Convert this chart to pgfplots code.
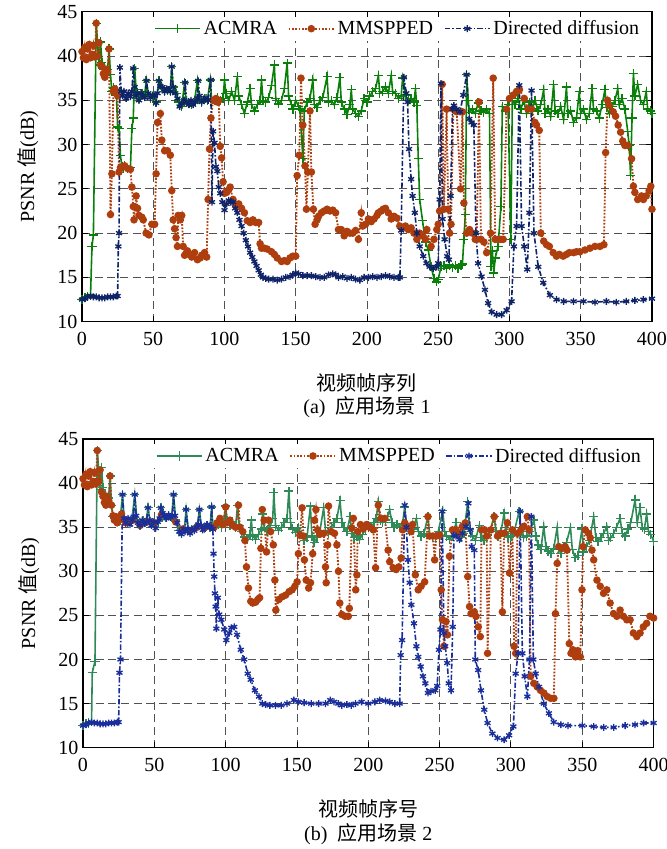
\documentclass[border=0pt]{standalone}
\usepackage{pgfplots}
\pgfplotsset{compat=1.18}
\usepackage{fontspec}
\setmainfont{Liberation Serif}
\newfontfamily\cjk{Noto Sans CJK SC}
\definecolor{gA}{RGB}{10,128,10}
\definecolor{gB}{RGB}{46,139,87}
\definecolor{rM}{RGB}{175,62,15}
\definecolor{bA}{RGB}{15,35,105}
\definecolor{bB}{RGB}{25,45,155}
\newcommand{\fs}{\fontsize{15}{18}\selectfont}
\pgfplotsset{
 myaxis/.style={
  scale only axis, xmin=0, xmax=400, ymin=10, ymax=45,
  xtick={0,50,...,400}, ytick={10,15,...,45},
  grid=major,
  major grid style={dash pattern=on 6pt off 3.5pt, color=black!68, line width=0.7pt},
  axis line style={line width=1pt},
  tick style={black, line width=0.7pt},
  font=\fs,
  tick label style={font=\fs},
  xticklabel style={yshift=-4pt},
  /pgf/number format/assume math mode=true,
  legend style={at={(rel axis cs:0.985,0.985)}, anchor=north east, draw=none, fill=white,
    legend columns=3, font=\fs, inner sep=1pt,
    /tikz/every even column/.append style={column sep=6pt}},
  legend image code/.code={\draw[mark repeat=2,mark phase=2,#1] plot coordinates {(0pt,0pt)(17pt,0pt)(34pt,0pt)};},
  ylabel={PSNR {\cjk 值}(dB)},
  ylabel style={at={(axis description cs:-0.095,0.5)}, anchor=center},
 },
 sA/.style={line width=1.2pt, mark=+, mark size=3.4pt, mark options={solid, line width=1pt}},
 sM/.style={color=rM, line width=1.4pt, dash pattern=on 1.3pt off 1.2pt, mark=*, mark size=2.1pt, mark options={solid, fill=rM}},
 sD/.style={line width=1.2pt, dash pattern=on 4pt off 1.5pt on 1.2pt off 1.5pt, mark=asterisk, mark size=2.6pt, mark options={solid, line width=1pt}},
}
\begin{document}
\begin{tikzpicture}
\useasboundingbox (-61.5pt,241.3pt) rectangle (438.75pt,-395.5pt);
% ---------------- (a) ----------------
\begin{axis}[myaxis, name=top, at={(0pt,0pt)}, anchor=south west, width=427.5pt, height=232.5pt]
\addplot[sA, color=gA] coordinates {
(0,12.5)(2,12.7)(4,12.8)(6,13.0)(7,18.5)(8,19.8)(10,43.7)(11,41.3)(12,39.0)(13,41.6)(14,39.3)(15,38.5)(16,38.8)(17,37.8)(18,38.5)(19,40.8)(20,37.9)(21,36.0)(22,36.4)(23,35.9)(24,36.2)(25,32.0)(26,31.8)(27,28.8)(28,27.5)(29,27.3)(30,27.6)(32,27.3)(34,27.4)(35,31.8)(36,33.0)(37,38.6)(38,36.2)(40,35.2)(42,35.8)(44,35.5)(45,37.2)(46,35.6)(48,35.2)(50,35.6)(52,34.8)(54,37.2)(56,36.4)(58,36.0)(60,36.1)(62,36.0)(63,38.8)(64,36.5)(66,35.8)(68,34.8)(70,34.3)(72,37.0)(73,35.0)(75,34.6)(77,34.5)(79,35.0)(81,37.2)(82,35.4)(84,34.8)(86,35.2)(88,35.0)(90,37.3)(91,35.2)(93,35.0)(95,35.3)(97,35.0)(99,35.2)(100,37.3)(101,35.8)(103,35.0)(105,36.0)(107,35.0)(109,37.7)(110,35.5)(112,34.5)(114,33.5)(116,34.8)(118,36.3)(119,34.5)(121,33.8)(123,34.5)(125,35.0)(126,37.3)(127,35.0)(129,34.8)(131,35.3)(133,36.7)(135,39.0)(136,35.2)(138,34.6)(140,35.0)(142,36.3)(144,39.2)(145,35.5)(147,34.5)(148,34.0)(150,35.0)(152,34.3)(153,34.0)(155,28.4)(156,33.8)(158,34.8)(160,35.2)(162,37.3)(163,34.5)(165,34.2)(167,35.0)(169,35.3)(172,37.7)(173,34.8)(175,35.0)(177,34.5)(179,35.3)(181,37.6)(182,34.8)(184,34.0)(186,33.4)(188,34.5)(189,36.2)(190,34.0)(192,33.5)(194,33.2)(196,33.8)(198,35.2)(200,34.8)(202,35.5)(204,36.0)(206,36.3)(208,37.8)(209,35.8)(211,36.0)(213,36.5)(215,35.8)(217,37.8)(218,36.0)(220,35.8)(222,35.2)(224,35.5)(225,37.5)(227,35.6)(229,35.0)(231,35.2)(233,34.8)(234,36.3)(235,34.4)(236,28.4)(237,23.8)(239,21.4)(241,19.0)(243,18.1)(245,16.2)(247,14.9)(249,14.5)(250,14.8)(252,16.2)(254,16.3)(256,16.0)(258,16.4)(260,16.1)(262,16.3)(264,16.0)(266,16.4)(267,16.5)(268,19.3)(269,22.1)(270,37.9)(271,35.0)(272,33.6)(274,34.0)(276,33.5)(278,34.7)(280,33.8)(282,33.6)(284,34.0)(286,33.5)(287,16.2)(288,18.0)(289,15.5)(290,17.2)(292,18.5)(294,23.0)(295,34.3)(297,33.8)(299,34.5)(301,19.3)(302,35.0)(304,34.5)(306,35.2)(308,34.0)(310,35.0)(312,33.5)(314,34.8)(316,34.0)(318,35.0)(320,33.8)(322,34.5)(324,36.2)(325,33.5)(327,34.0)(329,33.2)(331,36.8)(332,33.8)(334,33.5)(336,34.3)(338,32.8)(340,36.5)(341,33.5)(343,33.8)(345,32.5)(347,33.0)(349,36.0)(350,33.5)(352,34.0)(354,32.8)(356,33.5)(358,36.3)(359,34.0)(361,33.8)(363,33.0)(365,34.5)(367,36.2)(368,34.2)(370,33.5)(372,34.3)(374,35.0)(376,36.3)(377,34.5)(379,35.2)(381,34.0)(383,31.5)(384,29.9)(385,26.5)(386,33.0)(387,38.0)(388,35.5)(390,36.8)(392,35.0)(394,34.5)(396,36.0)(397,34.0)(399,33.8)(400,33.5)};
\addlegendentry{ACMRA}
\addplot[sM] coordinates {
(0,40.5)(1,39.8)(2,41.0)(3,39.6)(4,40.8)(5,41.3)(6,39.8)(7,40.2)(8,41.2)(9,39.9)(10,43.7)(11,40.0)(12,41.5)(13,39.0)(14,38.8)(15,38.0)(16,37.6)(17,38.5)(18,38.2)(19,40.8)(20,22.1)(21,26.7)(22,36.0)(23,36.3)(24,35.8)(25,35.5)(26,26.9)(27,27.4)(28,27.5)(30,27.6)(32,27.3)(34,27.2)(35,25.2)(36,23.0)(36.5,21.5)(38,24.2)(39,22.8)(40,22.0)(42,21.8)(43,21.5)(45,20.0)(47,19.8)(49,21.0)(51,21.0)(52,26.7)(53,32.5)(55,33.5)(56,30.5)(58,29.3)(60,29.3)(62,28.8)(63,24.8)(64,21.5)(65,20.5)(66,19.5)(67,18.5)(67.5,22.0)(69,21.5)(70,22.0)(71,18.5)(72,17.5)(74,18.0)(75,17.6)(77,17.3)(79,17.8)(81,17.0)(83,17.2)(84,17.5)(86,17.8)(87.5,17.3)(88.5,23.8)(89.5,29.5)(90.5,33.0)(92,35.0)(94,35.2)(95,34.8)(96,35.0)(97,29.8)(98,28.5)(99,25.8)(100,24.5)(101.5,24.6)(103,24.9)(104,25.2)(106,23.8)(108,23.1)(110,23.3)(112,22.8)(114,22.3)(116,21.4)(118,21.2)(120,21.5)(122,21.2)(124,21.2)(125,18.8)(126,18.3)(128,18.3)(130,18.2)(133,17.9)(135,17.6)(137,17.2)(140,16.8)(142,16.9)(144,16.8)(146,17.2)(148,17.4)(150,17.4)(151,26.5)(152.5,28.8)(153.7,37.5)(155,32.2)(156.5,27.6)(157.5,22.7)(158.5,26.9)(160,33.8)(161,26.9)(162.4,22.7)(163.6,21.0)(165,21.5)(166,21.9)(168,22.3)(170,22.5)(172,22.7)(174,22.5)(176,22.6)(178,22.3)(180,20.4)(182,20.4)(184,19.7)(186,20.2)(188,20.0)(190,20.0)(192,20.3)(194,19.3)(196,22.3)(197,20.8)(199,21.0)(201,21.6)(203,21.3)(205,21.6)(207,22.0)(208,22.3)(210,22.5)(211.4,22.7)(213,22.8)(215,22.3)(217,21.6)(219,21.9)(221,21.7)(223,20.8)(225,20.6)(227,20.8)(229,20.4)(231,20.6)(233,20.0)(235,19.3)(237,20.0)(239,19.7)(241,19.3)(242,20.4)(245,18.5)(247,19.3)(249,20.4)(250,21.0)(251,22.5)(252.8,36.8)(254,22.7)(255.9,34.0)(257,22.7)(258,20.0)(259,21.0)(260.6,34.0)(263,33.7)(265.7,25.0)(267,33.7)(268,23.4)(270,20.0)(272,20.4)(274,20.0)(276,19.3)(277,19.3)(278.6,34.8)(280,19.3)(282,19.0)(284,17.8)(286.7,20.0)(288.6,37.5)(290,19.3)(292,19.3)(294,19.3)(295.6,19.3)(298,34.0)(300,35.2)(302.7,35.6)(305,36.0)(307,36.2)(310.4,35.2)(313,34.0)(315.5,34.0)(317.9,32.5)(319,32.2)(320.9,31.6)(322,20.0)(324,19.1)(326,18.7)(328,18.5)(330.7,17.8)(333,17.4)(335,17.6)(337.7,17.4)(340,17.6)(342,17.8)(345,17.8)(347,17.9)(349.4,17.9)(353,18.1)(356.5,18.3)(360,18.5)(363.5,18.5)(366.3,18.7)(367.5,29.1)(368.9,35.0)(370,34.4)(372.8,33.7)(374.5,33.2)(376.3,32.2)(378,31.4)(379.5,30.4)(381,29.9)(383,29.9)(385.7,28.4)(387,25.3)(388,24.6)(390,23.8)(392.7,24.2)(394,23.8)(396,24.2)(398,24.8)(399.2,25.3)(400,22.7)};
\addlegendentry{MMSPPED}
\addplot[sD, color=bA] coordinates {
(0,12.5)(2,12.6)(4,12.8)(6,12.9)(8,12.8)(10,12.8)(12,12.7)(14,12.7)(16,12.7)(18,12.8)(20,12.8)(22,12.8)(24,12.9)(25,12.9)(25.5,18.5)(26,20.0)(26.6,38.7)(27.5,36.0)(28.5,35.5)(29.5,36.0)(31,35.2)(32.5,35.8)(34,35.4)(35,36.0)(36,38.6)(37,36.5)(38,35.5)(39,35.8)(40,35.0)(41.5,35.8)(43,35.5)(44,35.3)(45.3,37.2)(46.5,35.8)(48,35.3)(49.5,35.6)(51,35.5)(52,34.7)(53,35.8)(54,37.2)(55,36.6)(56.5,36.5)(58,36.0)(59.5,36.3)(61,36.2)(62,36.0)(63,38.8)(64,36.5)(65.5,35.8)(67,35.2)(68.5,34.3)(70,34.6)(71.5,35.0)(72.4,37.0)(73.5,34.8)(75,34.5)(76.5,35.0)(78,34.5)(79.5,34.8)(81,35.2)(81.5,37.2)(82.5,35.5)(84,34.8)(85.5,35.0)(87,35.3)(88.5,35.0)(90.4,37.3)(91.2,23.5)(92,31.5)(93,30.2)(94,27.5)(95,27.0)(96,25.2)(97,24.5)(98.5,23.5)(100,22.6)(101.5,23.3)(103,23.7)(104.5,23.5)(106,23.5)(107.5,22.8)(109,22.3)(110.5,21.5)(112,20.8)(113.5,20.0)(115,19.2)(116.5,18.5)(118,17.8)(119.5,17.3)(121,16.8)(122.5,16.3)(124,15.8)(125.5,15.3)(127,15.0)(129,14.9)(131,14.8)(134,14.8)(137,14.7)(140,14.8)(143,15.0)(146,15.1)(148,15.3)(150,15.5)(152,15.4)(155,15.2)(158,15.2)(161,15.2)(164,15.1)(167,15.0)(170,15.0)(173,15.3)(176,15.4)(178,15.3)(180,15.0)(183,15.1)(186,14.9)(189,15.0)(192,14.8)(195,14.7)(198,15.0)(201,15.0)(204,15.1)(207,15.0)(210,15.1)(213,15.2)(216,15.1)(219,15.0)(222,15.0)(223.1,15.0)(224,20.3)(225.9,37.6)(227.6,35.8)(228.5,34.8)(229.5,29.5)(231,26.1)(232,24.2)(233.6,22.3)(235,20.0)(237,18.5)(239.5,17.4)(241.8,16.6)(244,16.2)(246.5,16.0)(248.9,16.2)(250,16.6)(251,23.8)(251.9,36.9)(253,21.6)(254.5,19.3)(256.3,17.4)(257.5,17.0)(258.7,24.2)(260,34.0)(261,34.4)(263,34.0)(265.3,33.7)(267.6,35.6)(269.9,37.9)(271.8,32.9)(273.4,32.5)(275,32.2)(276.5,20.0)(278,16.6)(280.4,15.1)(282.8,13.6)(285,12.1)(287.5,11.1)(291,10.8)(294.5,10.8)(298,11.3)(301.5,12.3)(303.1,18.5)(305,20.8)(306.9,36.7)(308.5,20.8)(310.4,18.5)(312.5,15.9)(314,22.3)(315.5,36.1)(317.2,20.0)(320.2,16.2)(323.7,14.4)(328.4,13.0)(333,12.5)(338,12.3)(345,12.3)(352,12.3)(360,12.2)(368,12.3)(375,12.2)(382,12.3)(388,12.4)(394,12.5)(400,12.6)};
\addlegendentry{Directed diffusion}
\end{axis}
% ---------------- (b) ----------------
\begin{axis}[myaxis, name=bot, at={(0.75pt,-319.5pt)}, anchor=south west, width=428pt, height=231.5pt]
\addplot[sA, color=gB] coordinates {
(0,12.5)(2,12.7)(4,12.8)(6,13.0)(6.5,18.5)(8.4,19.8)(10,43.7)(11,41.5)(12,39.3)(13,41.8)(14,39.5)(15,38.5)(16,38.8)(17,37.8)(18,38.3)(19,40.8)(20,37.5)(21,36.2)(22,36.0)(24,36.0)(26,35.8)(27.7,38.7)(28.8,36.0)(30,35.5)(32,35.8)(34,35.5)(36.3,38.7)(38,35.6)(40,35.2)(42,35.8)(44,35.5)(45.6,37.2)(47,35.6)(49,35.4)(51,35.0)(53,35.7)(54.6,37.2)(56,36.5)(58,36.1)(60,36.3)(62,36.1)(63.5,38.7)(65,35.8)(67,34.6)(69,34.3)(71,34.7)(72.3,37.0)(74,34.6)(76,34.7)(78,34.8)(80,35.1)(81.6,37.0)(83,35.0)(85,34.9)(87,35.2)(89,35.0)(90.2,37.3)(91,35.2)(93,35.0)(95,35.3)(97,35.0)(98.5,35.5)(100,37.4)(101,35.8)(103,35.2)(105,35.6)(107,35.0)(108.3,37.5)(109.5,35.2)(111,34.5)(113,33.9)(115,33.6)(117,34.2)(118,35.8)(119,34.0)(121,33.6)(123,34.2)(125,34.8)(126,36.5)(127,35.0)(129,34.6)(131,35.0)(133,36.0)(133.8,38.9)(135,35.2)(137,34.6)(139,35.0)(141,35.5)(143,36.0)(144.3,39.1)(145.5,35.5)(147,34.8)(149,34.4)(151,35.0)(153,34.2)(155,33.5)(157,33.8)(159.4,37.4)(160.5,34.0)(162,33.3)(164,33.8)(166,34.5)(168.7,37.2)(170,34.6)(172,34.3)(174,35.0)(176,35.5)(178,36.0)(180.2,38.0)(181.5,35.5)(183,35.0)(185,34.5)(187.2,36.2)(188.5,34.3)(190,33.8)(192,34.0)(194,33.6)(196,34.2)(198,34.8)(200,35.2)(202,35.0)(204,35.5)(205.5,36.0)(207,37.9)(208.5,35.8)(210,35.5)(212,35.8)(213.5,36.2)(215,37.0)(216.5,35.5)(218,35.0)(220,35.3)(222,35.0)(224,35.4)(225.5,37.3)(227,35.0)(229,34.5)(231,34.8)(233.7,36.0)(235,34.5)(237,34.0)(239,34.3)(241.8,36.2)(243,34.2)(245,33.8)(247,34.0)(249,34.5)(252.2,36.9)(253.5,34.5)(255,34.0)(257,33.6)(259,34.0)(261.5,35.5)(263,34.0)(265,33.8)(267,34.3)(269.7,37.9)(271,34.8)(273,34.0)(275,33.5)(277.8,35.2)(279,33.8)(281,33.5)(283,34.0)(285,34.5)(288.2,36.2)(289.5,34.5)(291,34.0)(293,34.5)(295.2,36.6)(296.5,34.5)(298,33.8)(300,34.0)(302,34.3)(305.7,36.8)(307,34.5)(309,33.8)(311,34.0)(313,34.5)(316.1,35.8)(317.5,34.0)(319,33.0)(321,32.5)(323,35.1)(324.5,32.8)(326,32.3)(328,32.0)(330,32.6)(332.4,35.0)(333.5,32.5)(335,32.0)(337,32.8)(339,33.3)(341.7,35.0)(343,32.5)(345,31.6)(347,31.8)(349.8,34.8)(351,32.2)(353,32.8)(355,33.5)(358,36.2)(359.5,33.8)(361,33.4)(363,33.8)(365,34.3)(367.2,35.1)(368.5,33.5)(370,33.8)(372,34.3)(374,35.0)(376.5,36.0)(378,34.3)(380,34.0)(382,34.8)(384,35.5)(387,38.1)(388.5,35.5)(390.5,37.2)(392,35.0)(393.5,34.8)(395.1,36.5)(396.5,34.5)(398,34.2)(400,33.4)};
\addlegendentry{ACMRA}
\addplot[sM] coordinates {
(0,40.5)(1,39.8)(2,41.0)(3,39.6)(4,40.8)(5,41.3)(6,39.8)(7,40.2)(8,41.2)(9,39.9)(10,43.7)(11,40.2)(12,41.5)(13,39.0)(14,38.5)(15,37.8)(16,37.5)(17,38.5)(18,38.0)(19,40.8)(20,37.5)(21,36.3)(22,35.8)(23,36.2)(24,35.5)(25,35.8)(26,36.0)(27,36.5)(30,35.5)(35,35.8)(40,35.2)(45,35.6)(50,35.5)(55,36.4)(60,36.2)(65,35.6)(70,34.8)(75,34.6)(80,35.0)(85,34.9)(90,35.0)(92,35.0)(94,35.5)(96,36.0)(98,35.3)(100,37.3)(101,35.5)(103,35.8)(105,35.2)(107,35.0)(109,37.5)(110,35.0)(112,34.5)(113.5,33.5)(114.6,30.5)(116,28.1)(117.6,26.6)(119,26.4)(121,26.5)(122.5,26.8)(123.8,27.0)(124.7,32.6)(125.7,37.0)(127,35.8)(128.7,32.2)(130,35.8)(131.5,34.5)(133.4,33.0)(134.5,29.0)(135.2,25.6)(137.3,26.8)(139.5,27.1)(142,27.3)(144.5,27.7)(146.6,27.9)(148.5,28.3)(150.1,28.8)(151,32.0)(152,34.1)(153.6,37.2)(154.5,34.0)(155.2,31.3)(156.5,29.0)(158.2,28.1)(159.5,28.7)(161,32.0)(162.3,35.8)(163.3,37.0)(164.5,34.7)(166,34.2)(168.7,34.3)(170,30.5)(170.5,28.7)(171.5,33.0)(172.1,37.4)(174,34.5)(176.3,34.3)(178,33.0)(179.1,30.0)(180,26.4)(181.4,25.1)(183.7,24.9)(186,24.9)(186.7,25.8)(188.4,34.9)(189.5,36.0)(191.2,27.9)(192,29.6)(192.6,34.5)(194.5,35.3)(196.5,34.8)(198.8,35.3)(201,35.0)(203.5,34.7)(205.1,30.4)(207,37.5)(209,36.0)(211.6,36.0)(213.9,32.4)(215,31.1)(217.4,30.4)(219.5,30.2)(221.4,30.5)(223,31.5)(224,34.7)(225.5,35.5)(227.8,35.1)(230,34.5)(231,35.3)(233,29.6)(235,27.9)(237,28.3)(239.5,28.8)(241.8,36.2)(243,34.0)(245.3,34.0)(246.5,31.3)(247.6,34.0)(250,34.1)(251.1,27.9)(252,24.5)(253,21.5)(254.5,24.3)(255.5,22.8)(256.9,31.7)(259,34.7)(261.5,34.7)(263.9,34.3)(266,35.1)(268,35.5)(269.7,29.4)(271,26.0)(272,25.2)(274.3,25.4)(275.4,24.9)(277.1,23.7)(278.5,22.6)(279.4,34.7)(281.5,34.7)(283,34.0)(283.6,20.7)(286,34.7)(288.3,36.2)(290.6,34.0)(292.5,34.3)(294,25.4)(295.2,34.3)(297.5,35.5)(299,29.8)(301,34.7)(302.2,21.5)(303.3,20.7)(304.5,34.3)(307,34.7)(309.1,35.1)(311.5,36.2)(312.7,34.7)(313.8,18.1)(316,17.3)(318.4,16.9)(320.7,16.5)(323,16.2)(325.4,15.8)(327.8,15.6)(330.1,15.6)(331.2,25.2)(332.4,30.9)(333.5,32.8)(335.9,32.6)(338,32.8)(339.3,32.4)(340.9,21.8)(342.1,20.7)(343.4,21.1)(345.2,20.3)(346.8,21.0)(348.6,20.3)(349.8,27.9)(350.5,32.8)(352.1,34.7)(354.4,34.3)(355.6,33.8)(356.8,32.4)(358,31.3)(360.3,29.0)(362.6,28.3)(364.9,27.5)(367.2,27.9)(369.5,26.4)(371.9,25.2)(374.2,24.9)(376.5,25.6)(378.8,24.9)(381.2,24.5)(383.5,24.5)(385.8,23.0)(388.2,22.6)(390.5,23.0)(392.8,23.7)(395.1,24.1)(397.4,24.9)(400,24.7)};
\addlegendentry{MMSPPED}
\addplot[sD, color=bB] coordinates {
(0,12.5)(2,12.6)(4,12.8)(6,12.9)(8,12.8)(10,12.8)(12,12.7)(14,12.7)(16,12.7)(18,12.8)(20,12.8)(22,12.8)(24,12.9)(25,12.9)(25.6,18.5)(26.3,20.0)(27.7,38.7)(28.8,36.0)(30,35.5)(31.5,36.0)(33,35.3)(34.5,35.8)(35.5,36.2)(36.3,38.7)(37.3,36.3)(38.5,35.5)(40,35.2)(41.5,35.8)(43,35.4)(44.5,35.6)(45.6,37.2)(46.8,35.8)(48,35.2)(49.5,35.6)(51,34.9)(52.5,35.6)(53.7,36.0)(54.6,37.2)(55.8,36.6)(57,36.3)(58.5,36.0)(60,36.4)(61.5,36.1)(62.7,36.3)(63.5,38.7)(64.5,36.3)(66,35.5)(67.5,34.5)(69,34.2)(70.5,34.8)(71.5,34.5)(72.3,37.0)(73.5,34.8)(75,34.3)(76.5,34.8)(78,34.6)(79.5,35.0)(80.7,35.3)(81.6,37.0)(82.8,35.2)(84,34.7)(85.5,35.0)(87,35.3)(88.5,35.1)(89.5,35.0)(90.2,37.3)(91,34.8)(91.5,32.0)(92,29.4)(92.5,27.5)(93,26.0)(93.5,23.5)(94.5,27.0)(95.5,25.1)(97,24.5)(99,23.4)(100.5,22.2)(102.5,23.0)(104,23.6)(106,23.7)(108,22.8)(110.6,21.1)(113,20.0)(115.5,18.4)(117.6,17.7)(120.5,16.5)(123.4,15.8)(125.7,15.0)(128,14.9)(131,14.8)(135,14.8)(139,14.8)(143,15.0)(147.8,15.4)(151,15.2)(155,15.1)(160,15.0)(165.2,15.0)(170,15.0)(173.3,15.4)(176,15.2)(179,15.0)(181.4,14.8)(185,14.9)(188,14.8)(191,15.0)(195.3,15.2)(200,15.0)(204.6,15.2)(208,15.4)(212,15.3)(215,15.2)(218.6,15.0)(222,15.0)(222.7,20.5)(223.7,22.2)(225.5,37.5)(226.7,35.0)(227.8,31.3)(229,28.7)(230.2,26.2)(232,24.1)(233.7,21.5)(235,20.3)(236.7,19.2)(238.3,18.1)(240,17.3)(241.8,16.2)(244,16.4)(246.9,16.5)(248.3,17.0)(249.5,21.1)(250.6,23.4)(251.8,36.8)(253,23.0)(253.9,21.5)(255.3,19.6)(256.4,17.3)(258,16.5)(259.2,23.7)(260,34.1)(261.5,34.0)(263.9,33.6)(266,34.3)(268.5,35.1)(270.1,37.7)(271.5,34.7)(272.5,32.8)(274.3,32.4)(275,20.0)(277,18.8)(279,16.5)(281.3,14.3)(283.6,12.8)(287,11.6)(290.6,11.1)(295.2,10.9)(298.7,11.4)(301.7,12.4)(303.3,18.4)(305,20.7)(306.4,36.8)(308,20.7)(309.6,18.1)(311.5,15.8)(313,20.0)(314.3,36.2)(315.7,20.0)(317.3,18.4)(319.6,16.9)(323,15.0)(326.6,13.9)(330,12.9)(335,12.6)(340,12.5)(350,12.5)(358,12.4)(365,12.3)(372,12.3)(380,12.5)(387,12.6)(393,12.8)(400,12.8)};
\addlegendentry{Directed diffusion}
\end{axis}
\node[font=\fs\cjk] at ([yshift=-46pt]top.south) {视频帧序列};
\node[font=\fs] at ([yshift=-64pt]top.south) {(a)\ \ {\cjk 应用场景} 1};
\node[font=\fs\cjk] at ([yshift=-46pt]bot.south) {视频帧序号};
\node[font=\fs] at ([yshift=-65pt]bot.south) {(b)\ \ {\cjk 应用场景} 2};
\end{tikzpicture}
\end{document}
